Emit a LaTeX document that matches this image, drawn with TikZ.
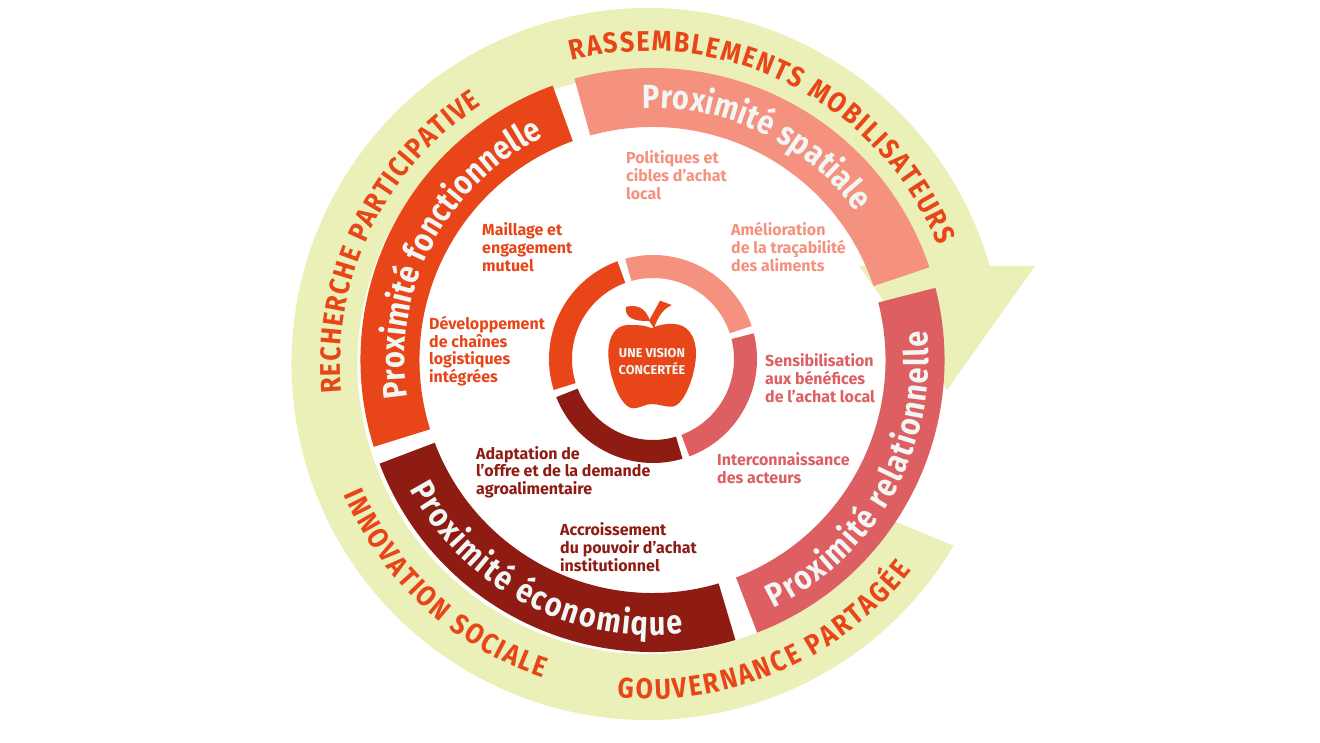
\documentclass[tikz,border=0pt]{standalone}
\usepackage{fontspec}
\setmainfont{Fira Sans}
\newfontfamily\bandfam[FakeStretch=0.86]{Fira Sans}
\newfontfamily\outerfam[FakeStretch=0.88]{Fira Sans}
\usetikzlibrary{decorations.text}
\definecolor{cgreen}{HTML}{EAF0B8}
\definecolor{cspa}{HTML}{F4927F}
\definecolor{crel}{HTML}{DE5F62}
\definecolor{ceco}{HTML}{8E1C12}
\definecolor{cfon}{HTML}{E84518}
\definecolor{cband}{HTML}{F2F7F5}
\newcommand{\sector}[5]{% colour, r-in, r-out, start, end
  \fill[#1] (#4:#3) arc[start angle=#4,end angle=#5,radius=#3] -- (#5:#2) arc[start angle=#5,end angle=#4,radius=#2] -- cycle;}
\newcommand{\arctext}[5]{% radius, start, end, format, text
  \path[decorate,decoration={text along path,text align={fit to path},text={|#4|#5}}] (#2:#1) arc[start angle=#2,end angle=#3,radius=#1];}
\newcommand{\bandfont}{\bandfam\bfseries\fontsize{33.5}{33.5}\selectfont}
\newcommand{\outerfont}{\outerfam\bfseries\fontsize{28.5}{28.5}\selectfont}
\tikzset{lab/.style={inner sep=0pt,align=left,anchor=west,font=\bfseries\fontsize{16}{17.7}\selectfont}}
\begin{document}
\begin{tikzpicture}[x=1pt,y=1pt]
\useasboundingbox (0,0) rectangle (1320,742);
\fill[white] (0,0) rectangle (1320,742);
% green spiral arrow
\begin{scope}[shift={(647.5,378)}]
\fill[cgreen] (329.3:356) arc[start angle=329.3,end angle=16,radius=356] -- (16:290) arc[start angle=16,end angle=327.4,radius=290] -- cycle;
\end{scope}
\fill[cgreen] (859,476) -- (1035,476) -- (947,352) -- cycle;
% outer captions
\begin{scope}[shift={(648,378)}]
\arctext{313}{104.2}{22.3}{\outerfont\color{cfon}}{RASSEMBLEMENTS MOBILISATEURS}
\arctext{307.5}{185.4}{122.8}{\outerfont\color{cfon}}{RECHERCHE PARTICIPATIVE}
\arctext{331}{203.3}{251.5}{\outerfont\color{cfon}}{INNOVATION SOCIALE}
\arctext{335}{264.7}{322}{\outerfont\color{cfon}}{GOUVERNANCE PARTAGÉE}
\end{scope}
% middle bands
\begin{scope}[shift={(652.5,382)}]
\sector{cspa}{233}{292}{105.5}{18.5}
\sector{crel}{233}{292}{14.3}{-69}
\sector{ceco}{233}{292}{-73.5}{-159.2}
\sector{cfon}{233}{292}{197.3}{110}
\arctext{252}{92.3}{36}{\bandfont\color{cband}}{Proximité spatiale}
\arctext{276}{-64}{6}{\bandfont\color{cband}}{Proximité relationnelle}
\arctext{275}{208}{276.5}{\bandfont\color{cband}}{Proximité économique}
\arctext{248}{188.8}{116}{\bandfont\color{cband}}{Proximité fonctionnelle}
\end{scope}
% inner ring
\begin{scope}[shift={(653,383)}]
\sector{cspa}{81}{104}{105.5}{18.5}
\sector{crel}{81}{104}{14.3}{-69.5}
\sector{ceco}{81}{104}{-73.5}{-158.5}
\sector{cfon}{81}{104}{197.3}{110}
\end{scope}
% apple
\fill[cfon] (651.7,413.7) .. controls (658,417) and (665,418.5) .. (673.3,418)
  .. controls (688,418) and (696,405) .. (696,388.7)
  .. controls (696,368) and (684,335.3) .. (671.7,335.3)
  .. controls (664,335.3) and (658,338) .. (651.7,338)
  .. controls (645,338) and (640,333.7) .. (633.3,333.7)
  .. controls (620,333.7) and (608.3,368) .. (608.3,388.7)
  .. controls (608.3,405) and (615,417) .. (628.3,417)
  .. controls (637,417) and (645,417) .. (651.7,413.7) -- cycle;
\fill[cfon] (626,435.3) .. controls (640,438) and (646,432) .. (650,421.3)
  .. controls (635,420) and (624,424) .. (626,435.3) -- cycle;
\fill[cfon] (649,421.3) -- (660,441.3) -- (671.7,437) .. controls (664,433) and (659,428) .. (654,413.7) -- cycle;
\node[inner sep=0pt,align=center,text=cband,font=\bfseries\fontsize{12.8}{17}\selectfont] (vision) at (652,380) {UNE VISION\\CONCERTÉE};
% labels
\node[lab,text=cspa] (politiques) at (626,567) {Politiques et\\cibles d’achat\\local};
\node[lab,text=cspa] (tracabilite) at (731,495) {Amélioration\\de la traçabilité\\des aliments};
\node[lab,text=crel] (sensib) at (765,364) {Sensibilisation\\aux bénéfices\\de l’achat local};
\node[lab,text=crel] (interco) at (717,274) {Interconnaissance\\des acteurs};
\node[lab,text=ceco] (pouvoir) at (560,195) {Accroissement\\du pouvoir d’achat\\institutionnel};
\node[lab,text=ceco] (offre) at (476,270) {Adaptation de\\l’offre et de la demande\\agroalimentaire};
\node[lab,text=cfon] (maillage) at (482,495) {Maillage et\\engagement\\mutuel};
\node[lab,text=cfon] (chaines) at (429,391) {Développement\\de chaînes\\logistiques\\intégrées};
\end{tikzpicture}
\end{document}
